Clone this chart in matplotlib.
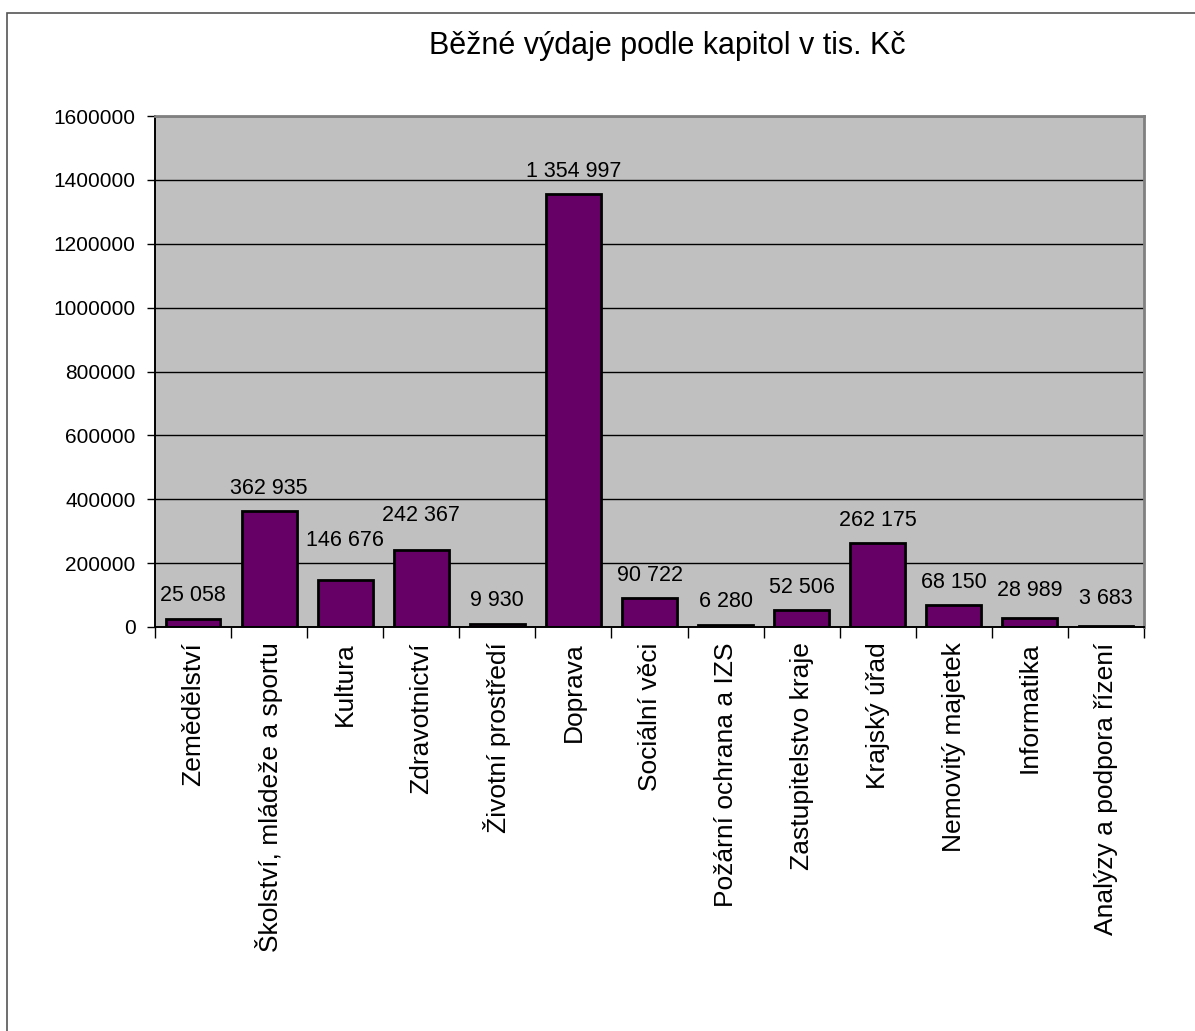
import numpy as np
import matplotlib.pyplot as plt
from matplotlib.patches import Rectangle

plt.rcParams['font.family'] = ['Liberation Sans', 'DejaVu Sans']

kapitoly = ["Zemědělství", "Školství, mládeže a sportu", "Kultura", "Zdravotnictví",
            "Životní prostředí", "Doprava", "Sociální věci", "Požární ochrana a IZS",
            "Zastupitelstvo kraje", "Krajský úřad", "Nemovitý majetek", "Informatika",
            "Analýzy a podpora řízení"]
vydaje = [25058, 362935, 146676, 242367, 9930, 1354997, 90722, 6280,
          52506, 262175, 68150, 28989, 3683]
y_ticks = [0, 200000, 400000, 600000, 800000, 1000000, 1200000, 1400000, 1600000]

# popisky u nekterych sloupcu jsou v puvodnim grafu posunute vys
posun = {2: 12, 3: 8, 11: 3, 12: 3}

fig = plt.figure(figsize=(11.95, 10.31), dpi=100)
ax = fig.add_axes([155/1195, 1 - 627/1031, (1144-155)/1195, (627-116)/1031])

x = np.arange(len(kapitoly))
ax.set_facecolor('#C0C0C0')
ax.set_axisbelow(True)
ax.yaxis.grid(True, color='black', linewidth=1)
ax.bar(x, vydaje, width=0.72, color='#660066', edgecolor='black', linewidth=2)

for i, (xi, v) in enumerate(zip(x, vydaje)):
    lab = "{:,}".format(v).replace(",", " ")
    ax.annotate(lab, (xi, v), xytext=(0, 9 + posun.get(i, 0)), textcoords='offset points',
                ha='center', va='bottom', fontsize=15.5)

ax.set_xlim(-0.5, len(kapitoly) - 0.5)
ax.set_ylim(0, 1600000)
ax.set_yticks(y_ticks)
ax.set_yticklabels([str(t) for t in y_ticks], fontsize=15)
ax.set_xticks(x)
ax.set_xticklabels(kapitoly, rotation=90, fontsize=19)
ax.set_xticks(np.arange(len(kapitoly) + 1) - 0.5, minor=True)
ax.tick_params(axis='x', which='major', length=0, pad=11)
ax.tick_params(axis='x', which='minor', length=8, width=1, color='black')
ax.tick_params(axis='y', length=6, width=1, color='black', pad=8)

for s in ['top', 'right']:
    ax.spines[s].set_color('#808080')
    ax.spines[s].set_linewidth(2)
for s in ['left', 'bottom']:
    ax.spines[s].set_color('black')
    ax.spines[s].set_linewidth(1.4)

fig.text(667/1195, 1 - 46/1031, "Běžné výdaje podle kapitol v tis. Kč",
         ha='center', va='center', fontsize=22)

fig.patches.append(Rectangle((7/1195, -0.1), 1.2, 1 - 13/1031 + 0.1,
                             transform=fig.transFigure, fill=False,
                             edgecolor='#555555', linewidth=1.2))

fig.savefig("out.png", dpi=100)
